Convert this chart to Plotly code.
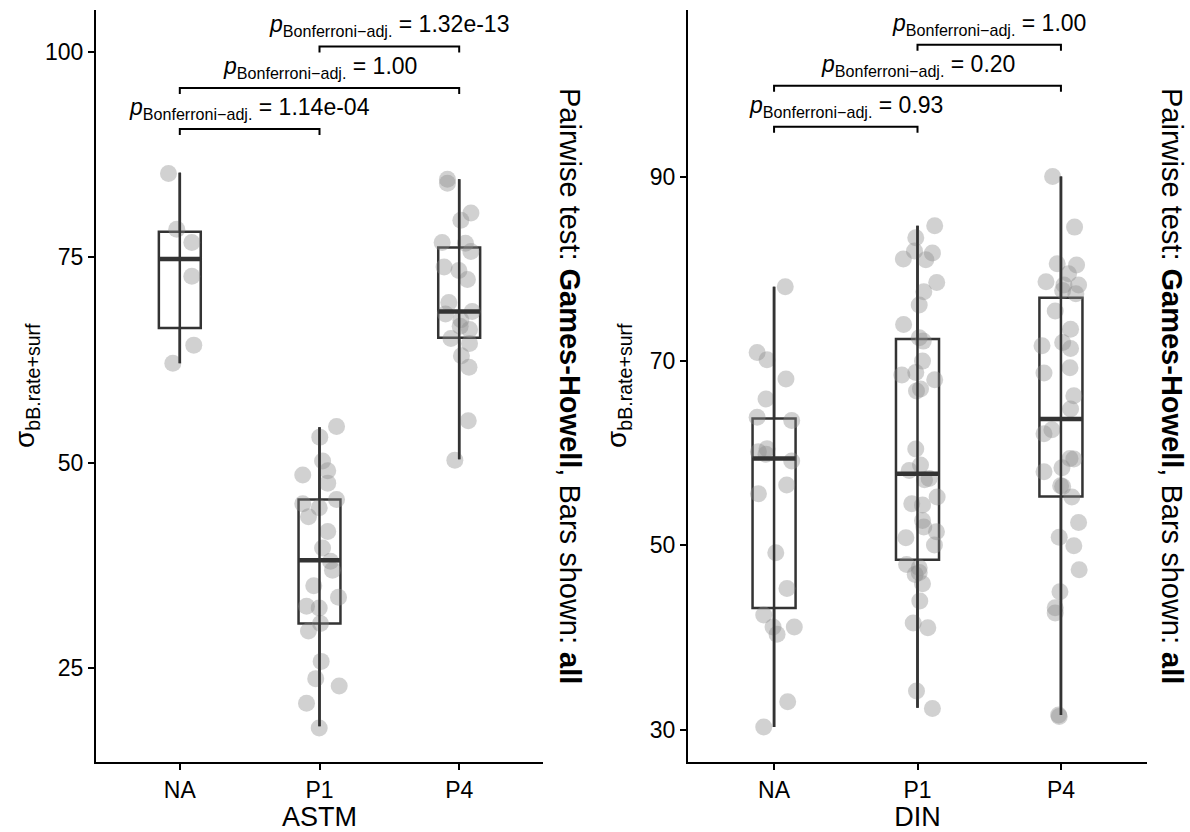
import plotly.graph_objects as go
import numpy as np

groups = ["NA", "P1", "P4"]

# ---------------- ASTM panel data ----------------
astm_na = [85.2, 78.4, 76.8, 72.7, 64.3, 62.1]
astm_na_jit = [-0.081, -0.022, 0.086, 0.086, 0.100, -0.050]
astm_p1 = [54.4, 53.1, 50.2, 49.0, 48.5, 47.5, 45.5, 45.0, 44.5, 43.4, 41.6, 39.6, 38.0,
           36.9, 35.0, 33.6, 32.5, 32.3, 30.4, 29.5, 25.8, 23.7, 22.8, 20.7, 17.7]
astm_p1_jit = [0.122, 0.002, 0.022, 0.059, -0.120, 0.059, 0.122, -0.120, -0.002, -0.079, 0.059,
               0.022, 0.079, 0.093, -0.041, 0.136, -0.093, -0.002, 0.007, -0.079, 0.012, -0.027,
               0.141, -0.093, -0.002]
astm_p4 = [84.5, 84.0, 80.4, 79.5, 76.8, 76.7, 75.7, 73.8, 73.4, 72.3, 69.5, 68.1, 68.4, 67.4,
           66.6, 66.2, 65.1, 64.5, 63.0, 61.6, 55.1, 50.3]
astm_p4_jit = [-0.084, -0.084, 0.084, 0.012, -0.122, 0.045, 0.084, -0.108, -0.002, 0.059, -0.074,
               -0.098, 0.093, 0.012, 0.007, 0.074, -0.059, 0.074, 0.016, 0.070, 0.065, -0.031]
astm_q1 = [66.4, 30.4, 65.2]
astm_med = [74.8, 38.1, 68.4]
astm_q3 = [78.1, 45.5, 76.2]
astm_lo = [62.1, 17.9, 50.4]
astm_hi = [85.3, 54.3, 84.5]
astm_pairs = [("NA", "P1"), ("NA", "P4"), ("P1", "P4")]
astm_pvals = ["1.14e-04", "1.00", "1.32e-13"]
astm_bracket_y = [90.6, 95.6, 100.67]

# ---------------- DIN panel data ----------------
din_na = [78.07, 70.94, 70.15, 68.05, 65.88, 63.9, 63.56, 60.16, 60.5, 59.9, 59.15, 56.55, 55.6,
          49.2, 45.33, 42.45, 41.15, 40.35, 41.15, 33.04, 30.3]
din_na_jit = [0.078, -0.118, -0.049, 0.083, -0.056, -0.118, 0.123, -0.109, -0.049, -0.056, 0.123,
              0.088, -0.109, 0.012, 0.090, -0.072, -0.007, 0.021, 0.141, 0.095, -0.072]
din_p1 = [84.68, 83.38, 81.94, 81.72, 81.07, 81.0, 78.53, 77.52, 76.08, 73.98, 72.53, 72.17, 70.0,
          68.49, 68.77, 67.97, 66.75, 66.97, 60.46, 58.72, 58.14, 57.27, 57.13, 55.25, 54.52, 54.38,
          52.71, 51.99, 51.48, 50.83, 50.04, 47.94, 47.58, 46.85, 47.07, 45.84, 43.97, 41.58, 41.07,
          34.2, 32.31]
din_p1_jit = [0.120, -0.012, -0.021, 0.104, -0.099, 0.058, 0.134, 0.044, 0.012, -0.097, 0.012, 0.040,
              0.035, -0.109, -0.012, 0.120, -0.007, 0.021, -0.012, 0.021, -0.058, 0.081, 0.049, 0.137,
              -0.040, 0.035, 0.035, 0.044, 0.132, -0.081, 0.118, -0.076, 0.012, -0.016, 0.012, 0.035,
              0.016, -0.030, 0.072, -0.007, 0.104]
din_p4 = [90.03, 84.54, 80.56, 80.42, 79.48, 78.6, 78.25, 78.25, 77.66, 77.3, 75.43, 73.47, 71.66,
          72.02, 71.37, 68.7, 69.28, 66.24, 64.8, 62.12, 62.55, 59.44, 59.37, 58.0, 58.43, 56.47,
          56.4, 55.25, 52.5, 50.9, 49.96, 47.36, 44.97, 43.24, 42.66, 31.6, 31.44]
din_p4_jit = [-0.058, 0.095, -0.026, 0.109, 0.053, -0.104, 0.021, 0.123, 0.012, 0.104, -0.040, 0.067,
              -0.132, 0.012, 0.067, -0.118, 0.063, 0.090, 0.067, -0.118, -0.063, 0.063, 0.090, -0.118,
              0.007, -0.002, 0.012, 0.076, 0.123, -0.012, 0.090, 0.127, -0.007, -0.040, -0.040,
              -0.016, -0.012]
din_q1 = [43.2, 48.45, 55.32]
din_med = [59.44, 57.78, 63.71]
din_q3 = [63.78, 72.39, 76.87]
din_lo = [30.3, 32.4, 31.6]
din_hi = [78.07, 84.68, 90.03]
din_pairs = [("NA", "P1"), ("NA", "P4"), ("P1", "P4")]
din_pvals = ["0.93", "0.20", "1.00"]
din_bracket_y = [95.42, 99.87, 104.32]

# ---------------- layout constants ----------------
W, H = 1190, 832
FONT = "Liberation Sans, Arial, sans-serif"
BOXCOL = "#333333"
PTCOL = "rgba(140,140,140,0.40)"
XR = [0.4, 3.6]
YDOM = [1 - 762 / H, 1 - 10 / H]
panels = [
    dict(xa="x", ya="y", xdom=[96 / W, 543 / W], yr=[13.55, 105.1], ticks=[25, 50, 75, 100],
         pts=[(astm_na, astm_na_jit), (astm_p1, astm_p1_jit), (astm_p4, astm_p4_jit)],
         q1=astm_q1, med=astm_med, q3=astm_q3, lo=astm_lo, hi=astm_hi,
         pairs=astm_pairs, pv=astm_pvals, by=astm_bracket_y, title="ASTM", side_x=570),
    dict(xa="x2", ya="y2", xdom=[688 / W, 1147 / W], yr=[26.5, 108.1], ticks=[30, 50, 70, 90],
         pts=[(din_na, din_na_jit), (din_p1, din_p1_jit), (din_p4, din_p4_jit)],
         q1=din_q1, med=din_med, q3=din_q3, lo=din_lo, hi=din_hi,
         pairs=din_pairs, pv=din_pvals, by=din_bracket_y, title="DIN", side_x=1172),
]

fig = go.Figure()
annotations = []
BW = 0.3
plot_h_px = (YDOM[1] - YDOM[0]) * H

for p in panels:
    xa, ya = p["xa"], p["ya"]
    # jittered points
    for gi, (vals, jit) in enumerate(p["pts"]):
        xs = [gi + 1 + j for j in jit]
        fig.add_trace(go.Scatter(x=xs, y=vals, mode="markers", xaxis=xa, yaxis=ya,
                                 marker=dict(size=17, color=PTCOL, line=dict(width=0)),
                                 showlegend=False, hoverinfo="y"))
    for gi in range(3):
        xc = gi + 1
        # whisker line through the box
        fig.add_trace(go.Scatter(x=[xc, xc], y=[p["lo"][gi], p["hi"][gi]], mode="lines",
                                 xaxis=xa, yaxis=ya, line=dict(color=BOXCOL, width=2.5),
                                 showlegend=False, hoverinfo="skip"))
        fig.add_trace(go.Box(x=[xc], q1=[p["q1"][gi]], median=[p["med"][gi]], q3=[p["q3"][gi]],
                             lowerfence=[p["lo"][gi]], upperfence=[p["hi"][gi]],
                             xaxis=xa, yaxis=ya, width=BW, whiskerwidth=0,
                             fillcolor="rgba(0,0,0,0)", line=dict(color=BOXCOL, width=2.5),
                             boxpoints=False, showlegend=False, hoverinfo="skip"))
        # thicker median
        fig.add_trace(go.Scatter(x=[xc - BW / 2, xc + BW / 2], y=[p["med"][gi]] * 2, mode="lines",
                                 xaxis=xa, yaxis=ya, line=dict(color=BOXCOL, width=4.5),
                                 showlegend=False, hoverinfo="skip"))
    # significance brackets
    drop = 6 * (p["yr"][1] - p["yr"][0]) / plot_h_px
    for (g1, g2), pv, yb in zip(p["pairs"], p["pv"], p["by"]):
        x1, x2 = groups.index(g1) + 1, groups.index(g2) + 1
        fig.add_trace(go.Scatter(x=[x1, x1, x2, x2], y=[yb - drop, yb, yb, yb - drop],
                                 mode="lines", xaxis=xa, yaxis=ya,
                                 line=dict(color="black", width=2),
                                 showlegend=False, hoverinfo="skip"))
        annotations.append(dict(x=(x1 + x2) / 2, y=yb, xref=xa, yref=ya, yanchor="bottom",
                                xanchor="center", yshift=4, showarrow=False,
                                text="<i>p</i><sub>Bonferroni\u2212adj.</sub> = " + pv,
                                font=dict(family=FONT, size=23, color="black")))
    # y title
    annotations.append(dict(x=(p["xdom"][0] * W - 70) / W, y=(YDOM[0] + YDOM[1]) / 2,
                            xref="paper", yref="paper", xanchor="center", yanchor="middle",
                            textangle=-90, showarrow=False,
                            text="\u03c3<sub>bB.rate+surf</sub>",
                            font=dict(family=FONT, size=28, color="black")))
    # side caption
    annotations.append(dict(x=p["side_x"] / W, y=(YDOM[0] + YDOM[1]) / 2, xref="paper",
                            yref="paper", xanchor="center", yanchor="middle", textangle=90,
                            showarrow=False,
                            text="Pairwise test: <b>Games-Howell</b>, Bars shown: <b>all</b>",
                            font=dict(family=FONT, size=29, color="black")))

axis_common = dict(showline=True, linecolor="black", linewidth=2, ticks="outside", ticklen=6,
                   tickwidth=2, tickcolor="black", showgrid=False, zeroline=False,
                   tickfont=dict(family=FONT, size=23, color="black"), fixedrange=True)

layout = dict(width=W, height=H, margin=dict(l=0, r=0, t=0, b=0),
              plot_bgcolor="white", paper_bgcolor="white", showlegend=False,
              annotations=annotations, font=dict(family=FONT))
for i, p in enumerate(panels):
    sx = "" if i == 0 else "2"
    layout["xaxis" + sx] = dict(axis_common, domain=p["xdom"], range=XR, tickvals=[1, 2, 3],
                                ticktext=groups, anchor="y" + sx,
                                title=dict(text=p["title"], standoff=6,
                                           font=dict(family=FONT, size=27, color="black")))
    layout["yaxis" + sx] = dict(axis_common, domain=YDOM, range=p["yr"], tickvals=p["ticks"],
                                anchor="x" + sx)

fig.update_layout(**layout)
fig.write_html("out.html")
